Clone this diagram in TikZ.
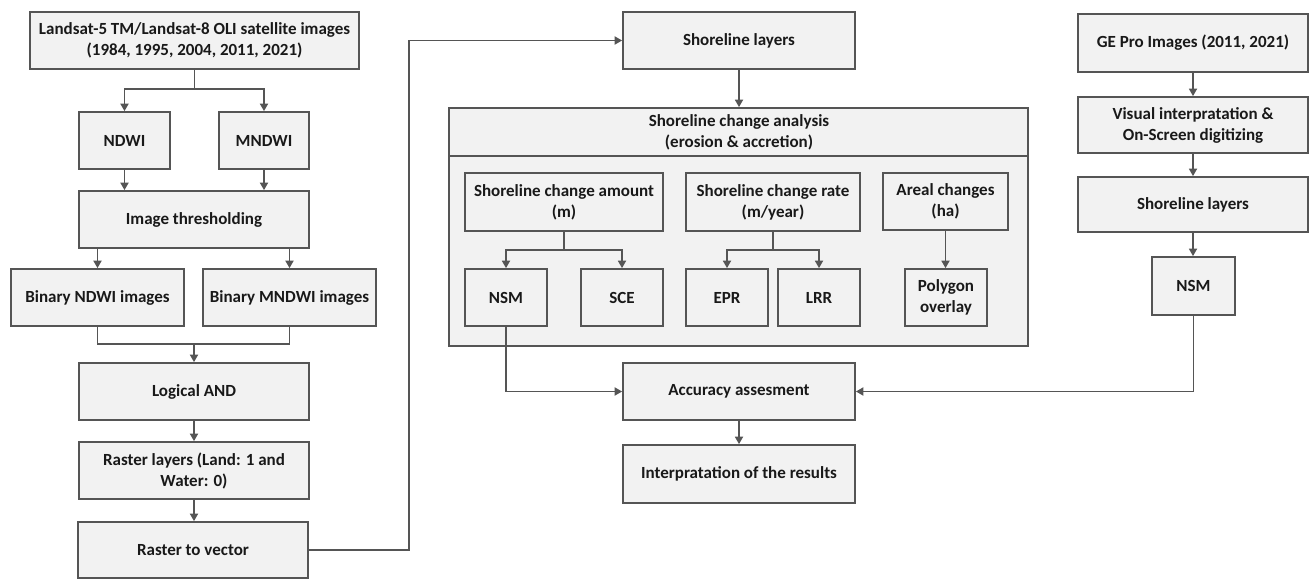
\documentclass[tikz,border=0pt]{standalone}
\usepackage{fontspec}
\setmainfont{Carlito}
\usetikzlibrary{arrows.meta,calc}
\definecolor{boxfill}{HTML}{F2F2F2}
\definecolor{edge}{HTML}{555555}
\begin{document}
\begin{tikzpicture}[x=1pt,y=-1pt,
  box/.style={draw=edge,fill=boxfill,line width=1.7pt,inner sep=0pt,align=center,
    font=\fontsize{17}{21}\selectfont\bfseries,text=black!90},
  arr/.style={draw=edge,line width=1.7pt,-{Triangle[length=7.5pt,width=8pt]}},
  ln/.style={draw=edge,line width=1.7pt}]
\useasboundingbox (0,0) rectangle (1311,580);
% left column
\node[box,minimum width=329pt,minimum height=57pt] (land) at (194.5,40.5) {Landsat-5 TM/Landsat-8 OLI satellite images\\(1984, 1995, 2004, 2011, 2021)};
\node[box,minimum width=91pt,minimum height=57pt] (ndwi) at (124.5,140.5) {NDWI};
\node[box,minimum width=90pt,minimum height=57pt] (mndwi) at (264,140.5) {MNDWI};
\node[box,minimum width=230pt,minimum height=57pt] (thr) at (194,219.5) {Image thresholding};
\node[box,minimum width=173pt,minimum height=57pt] (bndwi) at (97.5,297.5) {Binary NDWI images};
\node[box,minimum width=173pt,minimum height=57pt] (bmndwi) at (289.5,297.5) {Binary MNDWI images};
\node[box,minimum width=230pt,minimum height=57pt] (and) at (194,391.5) {Logical AND};
\node[box,minimum width=230pt,minimum height=57pt] (raster) at (194,470.5) {Raster layers (Land: 1 and\\Water: 0)};
\node[box,minimum width=230pt,minimum height=56pt] (r2v) at (193,550) {Raster to vector};
% middle
\node[box,minimum width=232pt,minimum height=57pt] (shl) at (739,40.5) {Shoreline layers};
\node[box,minimum width=579pt,minimum height=238pt] (big) at (738.5,227) {};
\draw[ln] (449,156) -- (1028,156);
\node[box,draw=none,fill=none] (title) at (739,132) {Shoreline change analysis\\(erosion \& accretion)};
\node[box,minimum width=198pt,minimum height=58pt] (amount) at (564,202) {Shoreline change amount\\(m)};
\node[box,minimum width=82pt,minimum height=57pt] (nsm1) at (506,297.5) {NSM};
\node[box,minimum width=82pt,minimum height=57pt] (sce) at (622,297.5) {SCE};
\node[box,minimum width=174pt,minimum height=58pt] (rate) at (773,202) {Shoreline change rate\\(m/year)};
\node[box,minimum width=82pt,minimum height=57pt] (epr) at (727,297.5) {EPR};
\node[box,minimum width=82pt,minimum height=57pt] (lrr) at (819,297.5) {LRR};
\node[box,minimum width=125pt,minimum height=57pt] (areal) at (945.5,201.5) {Areal changes\\(ha)};
\node[box,minimum width=82pt,minimum height=57pt] (poly) at (946,297.5) {Polygon\\overlay};
\node[box,minimum width=232pt,minimum height=57pt] (acc) at (739,391.5) {Accuracy assesment};
\node[box,minimum width=232pt,minimum height=58pt] (interp) at (739,474) {Interpratation of the results};
% right column
\node[box,minimum width=230pt,minimum height=58pt] (ge) at (1193,43) {GE Pro Images (2011, 2021)};
\node[box,minimum width=230pt,minimum height=56pt] (vis) at (1193,125) {Visual interpratation \&\\On-Screen digitizing};
\node[box,minimum width=230pt,minimum height=55pt] (shl2) at (1193,204.5) {Shoreline layers};
\node[box,minimum width=83pt,minimum height=58pt] (nsm2) at (1193.5,286) {NSM};
% connectors left
\coordinate (j1) at ($(land.south)+(0,19)$);
\draw[ln] (land.south) -- (j1);
\draw[arr] (j1) -| (ndwi.north);
\draw[arr] (j1) -| (mndwi.north);
\draw[arr] (ndwi.south) -- (ndwi.south |- thr.north);
\draw[arr] (mndwi.south) -- (mndwi.south |- thr.north);
\draw[arr] (bndwi.north |- thr.south) -- (bndwi.north);
\draw[arr] (bmndwi.north |- thr.south) -- (bmndwi.north);
\coordinate (j2) at ($(bndwi.south)+(0,17)$);
\draw[ln] (bndwi.south) -- (j2) -| (bmndwi.south);
\draw[arr] (and.north |- j2) -- (and.north);
\draw[arr] (and.south) -- (raster.north);
\draw[arr] (raster.south) -- (r2v.north -| raster.south);
\draw[arr] (r2v.east) -- ++(100,0) |- (shl.west);
% middle connectors
\draw[arr] (shl.south) -- (shl.south |- big.north);
\coordinate (j3) at ($(amount.south)+(0,18)$);
\draw[ln] (amount.south) -- (j3);
\draw[arr] (j3) -| (nsm1.north);
\draw[arr] (j3) -| (sce.north);
\coordinate (j4) at ($(rate.south)+(0,18)$);
\draw[ln] (rate.south) -- (j4);
\draw[arr] (j4) -| (epr.north);
\draw[arr] (j4) -| (lrr.north);
\draw[arr] (areal.south) -- (poly.north -| areal.south);
\draw[arr] (nsm1.south) |- (acc.west);
\draw[arr] (acc.south) -- (interp.north);
% right connectors
\draw[arr] (ge.south) -- (vis.north);
\draw[arr] (vis.south) -- (shl2.north);
\draw[arr] (shl2.south) -- (shl2.south |- nsm2.north);
\draw[arr] (nsm2.south) |- (acc.east);
\end{tikzpicture}
\end{document}
